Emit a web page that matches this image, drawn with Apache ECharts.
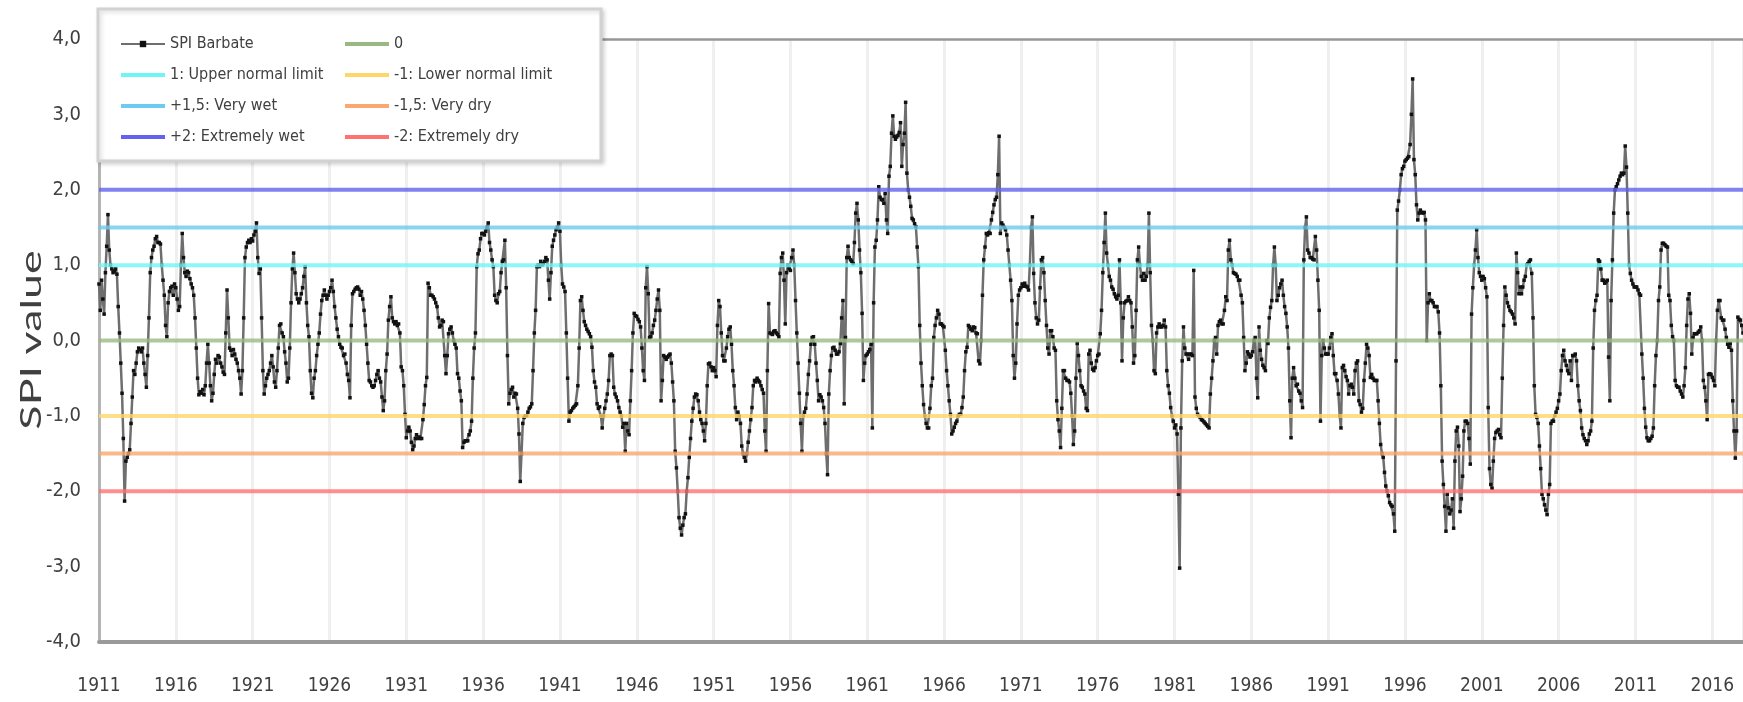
<!DOCTYPE html>
<html>
<head>
<meta charset="utf-8">
<title>SPI Barbate</title>
<script src="https://cdn.jsdelivr.net/npm/echarts@6.0.0/dist/echarts.min.js"></script>
<style>
	html, body { margin: 0; padding: 0; background: #fff; }
	#chart { width: 1743px; height: 702px; }
</style>
</head>
<body>
<div id="chart"></div>
<script>
// monthly SPI values, one row per year, starting January 1911
const startYear = 1911;

const spi1911s = [
	0.75, 0.4, 0.8, 0.55, 0.35, 0.9, 1.25, 1.67, 1.2, 1.0, 0.95, 0.9,
	0.92, 0.95, 0.88, 0.45, 0.1, -0.3, -0.7, -1.3, -2.13, -1.6, -1.55, -1.5,
	-1.45, -1.1, -0.75, -0.4, -0.45, -0.3, -0.15, -0.1, -0.12, -0.15, -0.1, -0.3,
	-0.45, -0.62, -0.2, 0.3, 0.9, 1.1, 1.2, 1.25, 1.35, 1.38, 1.3, 1.3,
	1.28, 1.0, 0.8, 0.6, 0.2, 0.05, 0.5, 0.65, 0.7, 0.72, 0.6, 0.75,
	0.7, 0.55, 0.4, 0.45, 1.0, 1.42, 1.1, 0.9, 0.85, 0.92, 0.9, 0.82,
	0.75, 0.7, 0.6, 0.3, -0.1, -0.5, -0.72, -0.68, -0.7, -0.65, -0.72, -0.6,
	-0.3, -0.05, -0.3, -0.6, -0.8, -0.7, -0.45, -0.25, -0.3, -0.2, -0.22, -0.3,
	-0.35, -0.42, -0.45, 0.1, 0.67, 0.3, -0.1, -0.13, -0.2, -0.12, -0.18, -0.25,
	-0.3, -0.4, -0.5, -0.71, -0.4, 0.3, 1.1, 1.24, 1.3, 1.33, 1.3, 1.35
];
const spi1921s = [
	1.32, 1.4, 1.45, 1.56, 1.1, 0.89, 0.95, 0.3, -0.4, -0.71, -0.6, -0.5,
	-0.45, -0.4, -0.3, -0.2, -0.35, -0.55, -0.62, -0.4, -0.1, 0.2, 0.22, 0.1,
	0.05, -0.15, -0.3, -0.55, -0.5, -0.1, 0.5, 0.95, 1.16, 0.9, 0.62, 0.55,
	0.5, 0.55, 0.62, 0.7, 0.85, 0.98, 0.5, 0.2, 0.05, -0.4, -0.7, -0.76,
	-0.5, -0.4, -0.2, -0.05, 0.1, 0.35, 0.53, 0.6, 0.67, 0.6, 0.55, 0.6,
	0.65, 0.7, 0.8, 0.65, 0.45, 0.3, 0.15, 0.05, -0.05, -0.09, -0.1, -0.2,
	-0.18, -0.3, -0.45, -0.53, -0.76, 0.2, 0.62, 0.65, 0.68, 0.7, 0.71, 0.68,
	0.6, 0.65, 0.55, 0.4, 0.2, -0.05, -0.3, -0.53, -0.55, -0.6, -0.62, -0.6,
	-0.53, -0.45, -0.4, -0.5, -0.55, -0.75, -0.93, -0.8, -0.4, -0.18, 0.27, 0.45,
	0.58, 0.3, 0.25, 0.22, 0.25, 0.2, 0.22, 0.1, -0.35, -0.4, -0.6, -0.98
];
const spi1931s = [
	-1.29, -1.2, -1.15, -1.2, -1.35, -1.45, -1.4, -1.3, -1.25, -1.3, -1.28, -1.3,
	-1.3, -1.05, -0.85, -0.6, -0.49, 0.76, 0.7, 0.6, 0.6, 0.58, 0.55, 0.5,
	0.45, 0.3, 0.18, 0.2, 0.27, 0.25, -0.2, -0.44, -0.2, 0.09, 0.15, 0.18,
	0.1, 0.0, -0.05, -0.1, -0.44, -0.5, -0.67, -0.8, -1.42, -1.35, -1.33, -1.33,
	-1.33, -1.25, -1.2, -1.07, -0.5, -0.1, 0.1, 0.98, 1.15, 1.2, 1.35, 1.42,
	1.42, 1.4, 1.45, 1.5, 1.56, 1.3, 1.2, 1.07, 0.98, 0.6, 0.53, 0.5,
	0.62, 0.65, 0.9, 1.05, 1.07, 1.33, 0.7, -0.2, -0.84, -0.7, -0.65, -0.62,
	-0.75, -0.7, -0.71, -0.9, -1.24, -1.87, -1.5, -1.1, -1.02, -1.0, -1.0, -0.95,
	-0.9, -0.88, -0.84, -0.4, 0.1, 0.4, 0.98, 1.0, 0.98, 1.05, 1.0, 1.02,
	1.05, 1.1, 1.07, 0.8, 0.55, 0.9, 1.25, 1.33, 1.4, 1.47, 1.5, 1.56
];
const spi1941s = [
	1.45, 1.0, 0.75, 0.71, 0.65, 0.1, -0.5, -1.07, -0.95, -0.93, -0.9, -0.88,
	-0.86, -0.84, -0.6, -0.1, 0.53, 0.58, 0.4, 0.25, 0.2, 0.15, 0.12, 0.09,
	0.05, -0.09, -0.4, -0.55, -0.62, -0.84, -0.9, -0.88, -1.0, -1.16, -1.0, -0.9,
	-0.8, -0.71, -0.53, -0.2, -0.18, -0.2, -0.62, -0.71, -0.75, -0.8, -0.89, -0.95,
	-1.0, -1.15, -1.1, -1.47, -1.1, -1.2, -1.25, -0.8, -0.4, 0.1, 0.36, 0.33,
	0.32, 0.28, 0.25, 0.18, -0.1, -0.4, -0.53, 0.7, 0.98, 0.62, 0.04, 0.05,
	0.1, 0.2, 0.27, 0.4, 0.55, 0.67, 0.4, -0.8, -0.53, -0.2, -0.22, -0.25,
	-0.22, -0.2, -0.18, -0.3, -0.55, -0.8, -1.47, -1.69, -2.0, -2.35, -2.49, -2.58,
	-2.45, -2.35, -2.3, -2.0, -1.82, -1.55, -1.3, -1.07, -0.9, -0.75, -0.71, -0.72,
	-0.8, -0.95, -1.05, -1.1, -1.2, -1.33, -1.1, -0.6, -0.31, -0.3, -0.35, -0.4
];
const spi1951s = [
	-0.36, -0.4, -0.48, 0.2, 0.53, 0.45, 0.1, -0.2, -0.27, -0.27, -0.1, 0.05,
	0.15, 0.18, -0.05, -0.4, -0.6, -0.89, -1.05, -0.95, -1.0, -1.1, -1.4, -1.5,
	-1.55, -1.6, -1.5, -1.35, -1.2, -1.05, -0.89, -0.6, -0.53, -0.55, -0.5, -0.53,
	-0.55, -0.6, -0.65, -0.7, -1.2, -1.47, -0.4, 0.49, 0.1, 0.09, 0.08, 0.12,
	0.13, 0.1, 0.08, 0.05, 0.89, 1.1, 1.16, 0.8, 0.22, 0.9, 1.0, 0.95,
	0.93, 1.1, 1.2, 1.0, 0.53, 0.1, -0.3, -0.7, -1.1, -1.47, -1.0, -0.95,
	-0.9, -0.71, -0.45, -0.27, -0.05, 0.04, 0.05, -0.05, -0.3, -0.53, -0.8, -0.72,
	-0.75, -0.8, -0.89, -1.1, -1.5, -1.78, -0.71, -0.4, -0.2, -0.1, -0.09, -0.13,
	-0.18, -0.18, -0.15, -0.04, 0.3, 0.53, -0.84, 0.04, 1.1, 1.25, 1.1, 1.07,
	1.05, 1.02, 1.3, 1.69, 1.82, 1.6, 1.2, 0.9, 0.36, -0.53, -0.3, -0.2
];
const spi1961s = [
	-0.18, -0.15, -0.12, -0.05, -1.16, 0.5, 1.24, 1.33, 1.6, 2.04, 1.9, 1.87,
	1.87, 1.82, 1.95, 1.6, 1.42, 2.18, 2.31, 2.75, 2.98, 2.71, 2.67, 2.7,
	2.72, 2.76, 2.89, 2.31, 2.6, 2.75, 3.16, 2.22, 2.0, 1.9, 1.78, 1.62,
	1.6, 1.55, 1.51, 1.24, 0.98, 0.2, -0.3, -0.6, -0.85, -1.0, -1.1, -1.16,
	-1.16, -0.9, -0.6, -0.5, 0.04, 0.2, 0.3, 0.4, 0.35, 0.22, 0.22, 0.2,
	0.18, -0.13, -0.4, -0.6, -0.8, -0.98, -1.24, -1.2, -1.15, -1.1, -1.07, -1.0,
	-0.98, -0.98, -0.89, -0.75, -0.4, -0.15, -0.09, 0.2, 0.18, 0.15, 0.13, 0.18,
	0.17, 0.1, 0.09, -0.27, -0.31, 0.0, 0.6, 1.07, 1.24, 1.42, 1.4, 1.43,
	1.42, 1.6, 1.7, 1.8, 1.87, 1.9, 2.2, 2.71, 1.42, 1.56, 1.53, 1.5,
	1.47, 1.4, 1.2, 1.0, 0.8, 0.53, -0.2, -0.5, -0.3, 0.22, 0.6, 0.67
];
const spi1971s = [
	0.7, 0.75, 0.72, 0.76, 0.72, 0.71, 0.67, 1.0, 1.5, 1.64, 0.89, 0.5,
	0.3, 0.22, 0.27, 0.7, 1.07, 1.1, 0.9, 0.53, 0.2, -0.1, -0.18, 0.13,
	0.13, 0.05, -0.1, -0.13, -0.8, -1.05, -1.2, -1.42, -0.9, -0.4, -0.4, -0.5,
	-0.53, -0.53, -0.55, -0.7, -1.0, -1.38, -1.2, -0.5, -0.04, -0.2, -0.4, -0.6,
	-0.62, -0.67, -0.71, -0.9, -0.93, -0.18, -0.13, -0.3, -0.38, -0.4, -0.36, -0.27,
	-0.2, -0.18, 0.09, 0.4, 0.9, 1.3, 1.69, 1.16, 1.0, 0.85, 0.8, 0.71,
	0.68, 0.62, 0.58, 0.55, 0.6, 1.07, 0.5, -0.27, 0.3, 0.5, 0.52, 0.53,
	0.58, 0.53, 0.5, 0.18, -0.3, -0.2, 0.4, 1.07, 1.24, 1.0, 0.85, 0.8,
	0.89, 0.8, 0.85, 1.0, 1.69, 0.9, 0.2, 0.0, -0.4, -0.44, 0.1, 0.18,
	0.22, 0.18, 0.18, 0.2, 0.27, 0.18, -0.4, -0.6, -0.7, -0.89, -1.0, -1.07
];
const spi1981s = [
	-1.16, -1.12, -1.24, -2.04, -3.02, -1.16, -0.27, 0.18, -0.1, -0.18, -0.18, -0.25,
	-0.18, -0.18, -0.2, 0.93, -0.75, -0.9, -0.98, -1.0, -1.02, -1.05, -1.06, -1.08,
	-1.1, -1.12, -1.14, -1.16, -0.71, -0.5, -0.27, 0.0, 0.04, -0.18, 0.2, 0.25,
	0.27, 0.22, 0.22, 0.4, 0.58, 0.53, 1.2, 1.33, 1.07, 1.0, 0.9, 0.89,
	0.88, 0.85, 0.8, 0.8, 0.6, 0.5, 0.04, -0.4, -0.3, -0.15, -0.18, -0.22,
	-0.2, -0.15, 0.0, 0.04, -0.5, -0.76, 0.18, -0.13, -0.25, -0.33, -0.36, -0.4,
	0.0, -0.04, 0.3, 0.44, 0.53, 1.0, 1.24, 1.0, 0.53, 0.6, 0.7, 0.75,
	0.8, 0.6, 0.45, 0.36, 0.18, -0.1, -0.8, -1.29, -0.5, -0.36, -0.5, -0.6,
	-0.58, -0.67, -0.7, -0.8, -0.89, 1.07, 1.5, 1.64, 1.2, 1.16, 1.1, 1.1,
	1.08, 1.07, 1.38, 1.2, 0.8, 0.4, -1.07, -0.2, 0.0, -0.1, -0.18, -0.18
];
const spi1991s = [
	-0.18, -0.1, 0.04, 0.09, -0.2, -0.44, -0.44, -0.53, -0.71, -1.0, -1.16, -0.36,
	-0.33, -0.4, -0.48, -0.53, -0.71, -0.6, -0.58, -0.62, -0.71, -0.4, -0.3, -0.27,
	-0.8, -0.85, -0.95, -0.9, -0.53, -0.3, -0.05, -0.1, -0.2, -0.49, -0.45, -0.5,
	-0.53, -0.53, -0.53, -0.8, -1.1, -1.38, -1.5, -1.55, -1.75, -1.93, -2.0, -2.06,
	-2.15, -2.18, -2.2, -2.3, -2.53, -0.27, 1.73, 1.85, 2.0, 2.2, 2.28, 2.31,
	2.38, 2.4, 2.42, 2.44, 2.6, 3.0, 3.47, 2.4, 2.2, 1.8, 1.6, 1.69,
	1.73, 1.7, 1.69, 1.7, 1.6, 0.0, 0.5, 0.62, 0.53, 0.53, 0.5, 0.45,
	0.45, 0.45, 0.38, 0.1, -0.6, -1.6, -1.91, -2.2, -2.53, -2.04, -2.22, -2.3,
	-2.25, -2.1, -2.49, -1.6, -1.2, -1.15, -1.4, -2.27, -2.1, -1.8, -1.2, -1.07,
	-1.07, -1.1, -1.3, -1.64, 0.35, 0.7, 1.0, 1.2, 1.47, 1.1, 0.9, 0.85
];
const spi2001s = [
	0.8, 0.85, 0.82, 0.7, 0.58, -0.89, -1.7, -1.91, -1.96, -1.6, -1.3, -1.22,
	-1.2, -1.18, -1.25, -1.29, -0.5, 0.2, 0.71, 0.6, 0.5, 0.45, 0.4, 0.38,
	0.35, 0.3, 0.22, 1.16, 0.9, 0.62, 0.71, 0.62, 0.71, 0.8, 0.85, 1.0,
	1.02, 1.05, 1.07, 0.89, 0.3, -0.6, -0.98, -1.02, -1.1, -1.4, -1.7, -2.04,
	-2.1, -2.18, -2.25, -2.31, -2.04, -1.91, -1.1, -1.07, -1.07, -1.0, -0.95, -0.9,
	-0.8, -0.71, -0.4, -0.2, -0.13, -0.27, -0.33, -0.4, -0.44, -0.27, -0.53, -0.2,
	-0.2, -0.18, -0.27, -0.6, -0.8, -0.93, -1.16, -1.25, -1.3, -1.33, -1.38, -1.33,
	-1.24, -1.2, -1.07, -0.1, 0.4, 0.53, 0.6, 1.07, 1.05, 0.95, 0.8, 0.8,
	0.76, 0.78, 0.8, -0.22, -0.8, 0.53, 1.07, 1.69, 2.0, 2.04, 2.08, 2.13,
	2.18, 2.22, 2.2, 2.22, 2.58, 2.3, 1.69, 1.0, 0.89, 0.8, 0.75, 0.71
];
const spi2011s = [
	0.71, 0.71, 0.67, 0.62, 0.6, -0.18, -0.5, -0.9, -1.15, -1.29, -1.33, -1.33,
	-1.3, -1.27, -1.16, -0.6, -0.2, 0.0, 0.53, 0.71, 1.2, 1.29, 1.29, 1.27,
	1.25, 1.24, 0.6, 0.53, 0.2, 0.05, 0.0, -0.53, -0.6, -0.62, -0.62, -0.67,
	-0.71, -0.75, -0.6, -0.36, 0.2, 0.55, 0.62, 0.36, -0.18, 0.04, 0.09, 0.09,
	0.09, 0.11, 0.13, 0.18, 0.0, -0.53, -0.62, -0.8, -1.05, -0.45, -0.44, -0.45,
	-0.49, -0.53, -0.6, 0.0, 0.4, 0.53, 0.53, 0.3, 0.27, 0.27, 0.15, 0.04,
	-0.05, -0.09, -0.04, -0.13, -0.8, -1.2, -1.56, -1.2, 0.31, 0.28, 0.27, 0.2,
	0.1, 0.08, 0.15
];

// reference levels
const levelNames = ['0', '1: Upper normal limit', '+1,5: Very wet', '+2: Extremely wet',
	'-1: Lower normal limit', '-1,5: Very dry', '-2: Extremely dry'];
const levelValues = [0, 1, 1.5, 2, -1, -1.5, -2];

const levelColors = {
	'0': '#98ba82',
	'1: Upper normal limit': '#6ff5f5',
	'+1,5: Very wet': '#6ccbee',
	'+2: Extremely wet': '#6262ee',
	'-1: Lower normal limit': '#ffd66a',
	'-1,5: Very dry': '#f9a870',
	'-2: Extremely dry': '#ff7272'
};

const narrow = "'Liberation Sans Narrow', 'DejaVu Sans Condensed', sans-serif";
// the source picture is cut off early in 2018
const xMin = 0, xMax = 107;
const lineIcon = 'path://M0,0H44V4H0Z';

const spi = [].concat(spi1911s, spi1921s, spi1931s, spi1941s, spi1951s,
	spi1961s, spi1971s, spi1981s, spi1991s, spi2001s, spi2011s);
// x = years since January 1911
const spiPoints = spi.map((v, i) => [i / 12, v]);

function legendAt(left, names) {
	return {
		// the level lines get a plain bar, the SPI series keeps line + marker
		data: names.map(n => n === 'SPI Barbate' ? { name: n } : { name: n, icon: lineIcon }),
		orient: 'vertical',
		left: left,
		top: 36,
		padding: 0,
		itemWidth: 44,
		itemHeight: 8,
		itemGap: 15,
		selectedMode: false,
		z: 60,
		textStyle: { fontFamily: narrow, fontSize: 16, lineHeight: 16, color: '#404040' }
	};
}

let chart = echarts.init(document.getElementById('chart'));

let series = [{
	name: 'SPI Barbate',
	type: 'line',
	data: spiPoints,
	z: 2,
	symbol: 'rect',
	symbolSize: 3.5,
	showSymbol: true,
	showAllSymbol: true,
	lineStyle: { color: '#6e6e6e', width: 2.5 },
	itemStyle: { color: '#111' },
	emphasis: { disabled: true }
}];
levelNames.forEach((name, i) => {
	series.push({
		name: name,
		type: 'line',
		data: [[xMin, levelValues[i]], [xMax, levelValues[i]]],
		z: 3,
		symbol: 'none',
		silent: true,
		lineStyle: { color: levelColors[name], width: 4, opacity: 0.8 },
		itemStyle: { color: levelColors[name] },
		emphasis: { disabled: true }
	});
});

let option = {
	animation: false,
	backgroundColor: '#fff',
	grid: { left: 99, right: 0, top: 39, bottom: 60, outerBoundsMode: 'none' },
	legend: [
		legendAt(120, ['SPI Barbate', '1: Upper normal limit', '+1,5: Very wet', '+2: Extremely wet']),
		legendAt(345, ['0', '-1: Lower normal limit', '-1,5: Very dry', '-2: Extremely dry'])
	],
	xAxis: [{
		type: 'value',
		min: xMin,
		max: xMax,
		interval: 5,
		axisLine: { onZero: false, lineStyle: { color: '#9a9a9a', width: 4 } },
		axisTick: { show: false },
		axisLabel: {
			margin: 35,
			fontFamily: narrow,
			fontSize: 19,
			color: '#404040',
			showMaxLabel: false,
			formatter: v => String(startYear + v)
		},
		splitLine: { show: true, lineStyle: { color: '#efefef', width: 3 } }
	}, {
		type: 'value',
		position: 'top',
		min: xMin,
		max: xMax,
		axisLine: { show: true, onZero: false, lineStyle: { color: '#979797', width: 2.5 } },
		axisTick: { show: false },
		axisLabel: { show: false },
		splitLine: { show: false }
	}],
	yAxis: {
		type: 'value',
		min: -4,
		max: 4,
		interval: 1,
		axisLine: { show: true, onZero: false, lineStyle: { color: '#b4b4b4', width: 3 } },
		axisTick: { show: false },
		splitLine: { show: false },
		axisLabel: {
			margin: 18,
			fontFamily: narrow,
			fontSize: 20,
			color: '#404040',
			formatter: v => v.toFixed(1).replace('.', ',')
		}
	},
	graphic: [{
		// legend box
		type: 'rect',
		z: 50,
		shape: { x: 98, y: 9, width: 503, height: 152 },
		style: {
			fill: '#fff', stroke: '#d2d2d2', lineWidth: 3,
			shadowBlur: 4, shadowOffsetX: 2, shadowOffsetY: 2, shadowColor: 'rgba(0,0,0,0.15)'
		}
	}, {
		type: 'text',
		z: 10,
		x: 32,
		y: 340,
		rotation: Math.PI / 2,
		scaleX: 1.6,
		style: {
			text: 'SPI value',
			fontFamily: 'Lato, sans-serif',
			fontSize: 28,
			fill: '#404040',
			align: 'center',
			verticalAlign: 'middle'
		}
	}],
	series: series
};

chart.setOption(option);
</script>
</body>
</html>
